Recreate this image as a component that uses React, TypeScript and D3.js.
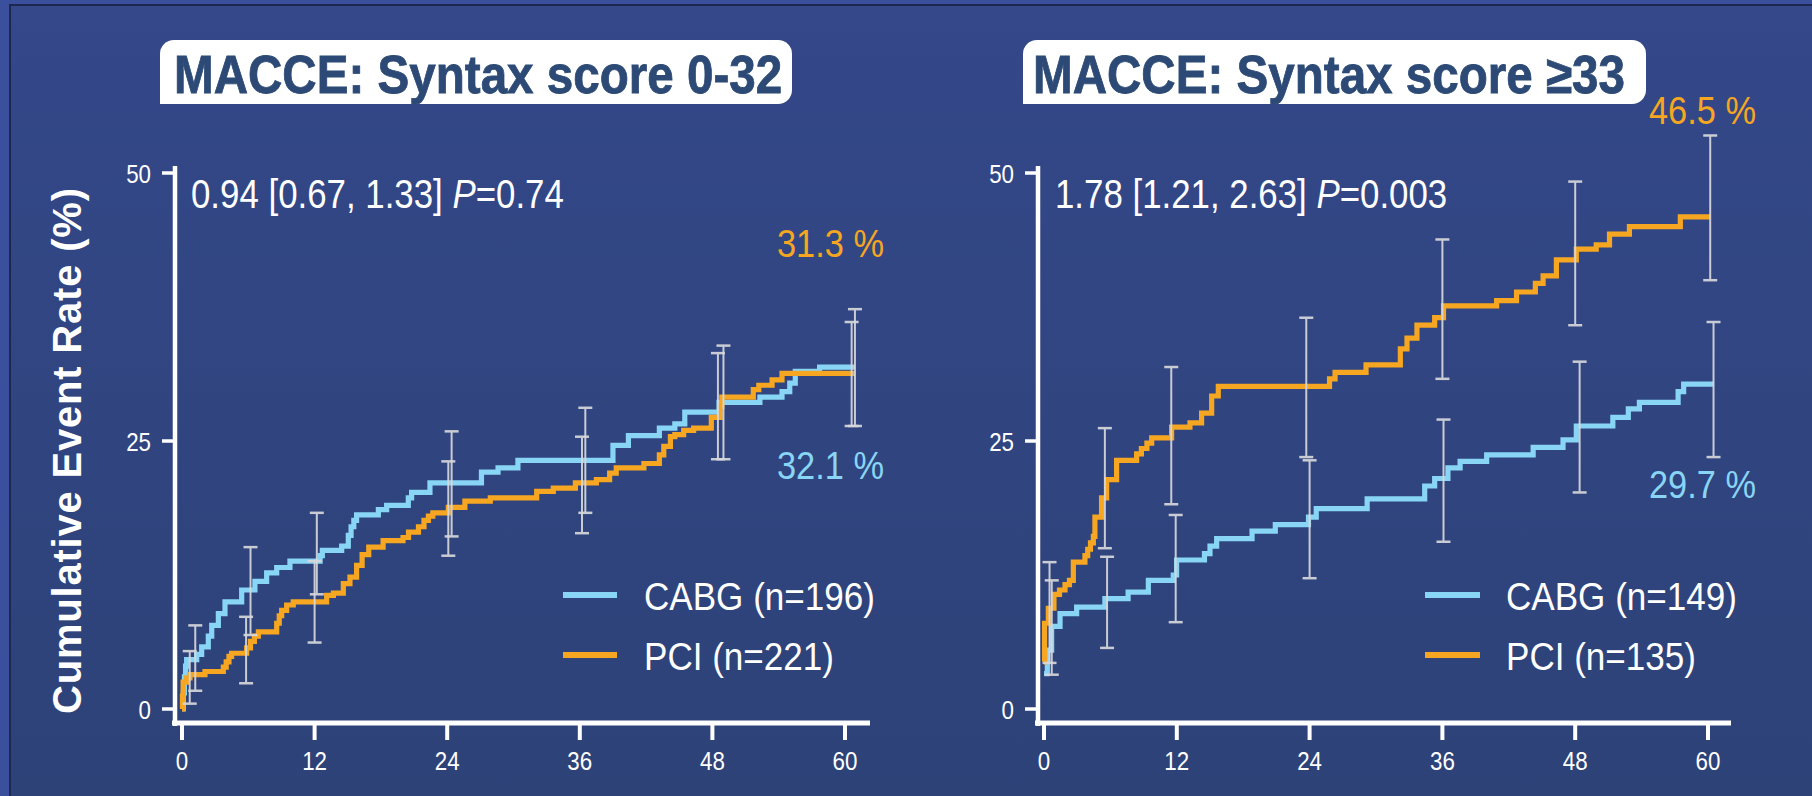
import React from 'react';
import * as d3 from 'd3';

type Pt = [number, number];
type CI = [number, number, number];

// ---------- data ----------
const monthTicks = [0, 12, 24, 36, 48, 60];
const rateTicks = [0, 25, 50];

// Syntax score 0-32
const leftCabg: Pt[] = [
  [0, 0], [0.12, 1.5], [0.22, 3.0], [0.32, 4.0], [0.42, 4.6], [1.33, 5.1], [1.78, 5.8], [2.38, 6.8],
  [2.69, 7.8], [3.29, 8.9], [3.89, 10.0], [5.4, 11.1], [6.6, 11.9], [7.66, 12.7], [8.57, 13.2],
  [9.77, 13.8], [12.5, 14.3], [12.7, 14.8], [14.45, 15.2], [15.05, 16.2], [15.3, 17.0], [15.55, 17.6],
  [15.8, 18.1], [17.77, 18.6], [18.52, 19.0], [20.48, 19.7], [20.78, 20.2], [22.44, 21.1], [27.1, 22.1],
  [28.6, 22.5], [30.4, 23.2], [39.0, 24.6], [40.4, 25.5], [43.2, 26.2], [44.6, 26.6], [45.5, 27.7],
  [48.6, 28.6], [52.3, 29.1], [54.3, 29.6], [55.0, 30.4], [55.5, 31.5], [57.7, 31.9], [60.9, 31.9],
];
const leftPci: Pt[] = [
  [0, 0], [0.04, 1.2], [0.1, 2.5], [0.4, 2.9], [0.72, 3.2], [2.08, 3.5], [3.74, 3.9], [4.0, 4.4],
  [4.25, 4.9], [4.49, 5.2], [5.85, 5.7], [6.2, 6.3], [6.55, 6.8], [6.91, 7.2], [8.57, 8.0], [8.8, 8.7],
  [9.02, 9.2], [9.47, 9.7], [10.07, 10.0], [13.09, 10.6], [13.7, 10.8], [14.6, 11.7], [15.2, 12.3],
  [15.8, 13.4], [16.3, 14.4], [16.9, 15.1], [18.2, 15.7], [20.0, 16.0], [20.5, 16.5], [21.4, 17.0],
  [21.9, 17.6], [22.3, 18.0], [22.7, 18.3], [24.1, 18.8], [25.6, 19.4], [27.9, 19.7], [32.1, 20.3],
  [33.6, 20.6], [35.6, 21.1], [37.5, 21.4], [38.7, 22.0], [39.3, 22.5], [41.8, 22.9], [43.2, 23.7],
  [43.6, 24.5], [44.2, 25.4], [44.6, 25.6], [45.4, 26.0], [46.3, 26.2], [47.9, 27.2], [48.7, 28.2],
  [48.85, 29.1], [51.7, 29.8], [52.2, 30.2], [53.4, 30.7], [54.3, 31.3], [60.9, 31.3],
];
// [month, lower, upper]
const leftCabgCI: CI[] = [
  [1.2, 1.7, 7.8], [6.2, 6.9, 15.1], [12.2, 10.7, 18.3], [24.4, 16.1, 25.9],
  [36.5, 18.3, 28.1], [49.0, 23.3, 33.9], [60.9, 26.4, 37.3],
];
const leftPciCI: CI[] = [
  [0.7, 0.5, 5.4], [5.8, 2.4, 8.6], [12.0, 6.2, 13.8], [24.1, 14.3, 23.1],
  [36.2, 16.4, 25.4], [48.5, 23.3, 33.2], [60.6, 26.4, 36.1],
];

// Syntax score >=33
const rightCabg: Pt[] = [
  [0, 3.3], [0.3, 5.5], [0.69, 7.7], [1.45, 8.9], [2.95, 9.5], [5.5, 10.3], [7.6, 10.9], [9.43, 12.0],
  [11.68, 12.5], [11.98, 13.9], [14.5, 14.5], [15.0, 15.2], [15.6, 15.9], [18.8, 16.6], [20.9, 17.2],
  [23.9, 17.9], [24.6, 18.7], [29.2, 19.6], [34.4, 20.8], [35.3, 21.5], [36.5, 22.5], [37.6, 23.1],
  [40.0, 23.7], [44.2, 24.4], [46.9, 25.1], [48.1, 26.4], [51.4, 27.2], [52.8, 28.0], [53.8, 28.6],
  [57.3, 29.6], [57.8, 30.3], [60.5, 30.3],
];
const rightPci: Pt[] = [
  [0, 4.4], [0.05, 8.0], [0.39, 9.4], [0.9, 10.7], [1.4, 11.1], [1.9, 11.6], [2.3, 12.0], [2.65, 13.7],
  [3.7, 14.3], [3.95, 14.9], [4.2, 15.5], [4.46, 16.1], [4.6, 17.9], [5.2, 19.7], [5.66, 21.4],
  [6.56, 23.2], [8.37, 23.8], [8.8, 24.3], [9.3, 24.8], [9.73, 25.3], [11.53, 26.3], [13.19, 26.7],
  [14.24, 27.6], [15.15, 29.2], [15.75, 30.1], [25.8, 30.8], [26.3, 31.4], [29.1, 32.1], [32.2, 33.6],
  [32.8, 34.6], [33.7, 35.8], [35.3, 36.5], [36.1, 37.6], [40.9, 38.1], [42.7, 38.9], [44.4, 39.7],
  [45.1, 40.4], [46.3, 41.9], [48.1, 42.9], [49.9, 43.3], [51.1, 44.3], [52.9, 45.0], [57.5, 45.9],
  [60.2, 45.9],
];
const rightCabgCI: CI[] = [
  [0.7, 3.2, 12.0], [5.7, 5.7, 14.2], [11.9, 8.1, 18.1], [24.0, 12.2, 23.2],
  [36.1, 15.6, 27.0], [48.4, 20.2, 32.4], [60.5, 23.5, 36.1],
];
const rightPciCI: CI[] = [
  [0.5, 4.3, 13.7], [5.5, 15.0, 26.2], [11.5, 19.1, 31.9], [23.7, 23.5, 36.5],
  [36.0, 30.8, 43.8], [48.0, 35.8, 49.2], [60.2, 40.0, 53.5],
];

const panelTitles = ['MACCE: Syntax score 0-32', 'MACCE: Syntax score \u226533'];
const hrTexts = ['0.94 [0.67, 1.33] ', '1.78 [1.21, 2.63] '];
const pTexts = ['=0.74', '=0.003'];
const pciFinal = ['31.3 %', '46.5 %'];
const cabgFinal = ['32.1 %', '29.7 %'];
const cabgLegend = ['CABG (n=196)', 'CABG (n=149)'];
const pciLegend = ['PCI (n=221)', 'PCI (n=135)'];
const yAxisTitle = 'Cumulative Event Rate (%)';

// ---------- styling / layout ----------
const W = 1812;
const H = 796;
const FONT = "'Liberation Sans', Arial, Helvetica, sans-serif";
const ORANGE = '#f6a620';
const BLUE = '#88d5f5';
const TITLE_INK = '#2c4a75';
const BAR = '#d8d8dc';

interface Cfg {
  x0: number; x60: number; axisX: number; xAxisEnd: number;
  box: [number, number]; titleX: number;
  statX: number;
  pciLab: [number, number]; cabgLab: [number, number];
  legX1: number; legX2: number; legTextX: number;
}

const cfgs: Cfg[] = [
  {
    x0: 182, x60: 845, axisX: 175, xAxisEnd: 870, box: [160, 792], titleX: 174,
    statX: 191, pciLab: [884, 257], cabgLab: [884, 479],
    legX1: 563, legX2: 617, legTextX: 644,
  },
  {
    x0: 1044, x60: 1708, axisX: 1038, xAxisEnd: 1731, box: [1023, 1646], titleX: 1033,
    statX: 1055, pciLab: [1756, 124], cabgLab: [1756, 498],
    legX1: 1425, legX2: 1480, legTextX: 1506,
  },
];

const Y0 = 709;
const Y50 = 173;

function boxPath(x1: number, x2: number, y1: number, y2: number, r: number) {
  return `M${x1},${y2} L${x1},${y1 + r} A${r},${r} 0 0 1 ${x1 + r},${y1} L${x2 - r},${y1} A${r},${r} 0 0 1 ${x2},${y1 + r} L${x2},${y2 - r} A${r},${r} 0 0 1 ${x2 - r},${y2} Z`;
}

function Panel({ i, cabg, pci, cabgCI, pciCI }: { i: number; cabg: Pt[]; pci: Pt[]; cabgCI: CI[]; pciCI: CI[] }) {
  const c = cfgs[i];
  const x = d3.scaleLinear().domain([0, 60]).range([c.x0, c.x60]);
  const y = d3.scaleLinear().domain([0, 50]).range([Y0, Y50]);
  const line = d3.line<Pt>().x((d) => x(d[0])).y((d) => y(d[1])).curve(d3.curveStepAfter);

  const bars = (data: CI[], key: string) =>
    data.map((d, k) => (
      <g key={key + k} stroke={BAR} opacity={0.92}>
        <line x1={x(d[0])} x2={x(d[0])} y1={y(d[1])} y2={y(d[2])} strokeWidth={2} />
        <line x1={x(d[0]) - 7} x2={x(d[0]) + 7} y1={y(d[1])} y2={y(d[1])} strokeWidth={2.5} />
        <line x1={x(d[0]) - 7} x2={x(d[0]) + 7} y1={y(d[2])} y2={y(d[2])} strokeWidth={2.5} />
      </g>
    ));

  return (
    <g fontFamily={FONT}>
      {/* title box */}
      <path d={boxPath(c.box[0], c.box[1], 40, 104, 14)} fill="#ffffff" />
      <text transform={`translate(${c.titleX},92.5) scale(0.898,1)`} fontSize={53} fontWeight="bold"
        fill={TITLE_INK} stroke={TITLE_INK} strokeWidth={0.8}>{panelTitles[i]}</text>

      {/* axes */}
      <line x1={c.axisX} x2={c.axisX} y1={166} y2={726} stroke="#fff" strokeWidth={4.5} />
      <line x1={c.axisX - 3} x2={c.xAxisEnd} y1={723} y2={723} stroke="#fff" strokeWidth={5} />
      {rateTicks.map((t) => (
        <g key={'y' + t}>
          <line x1={c.axisX - 13} x2={c.axisX} y1={y(t)} y2={y(t)} stroke="#fff" strokeWidth={3.5} />
          <text transform={`translate(${c.axisX - 24},${y(t) + 9.5}) scale(0.86,1)`} textAnchor="end"
            fontSize={26} fill="#fff">{t}</text>
        </g>
      ))}
      {monthTicks.map((t) => (
        <g key={'x' + t}>
          <line x1={x(t)} x2={x(t)} y1={723} y2={740} stroke="#fff" strokeWidth={4} />
          <text transform={`translate(${x(t)},770) scale(0.86,1)`} textAnchor="middle"
            fontSize={26} fill="#fff">{t}</text>
        </g>
      ))}

      {/* statistics */}
      <text transform={`translate(${c.statX},208) scale(0.85,1)`} fontSize={41} fill="#fff">
        {hrTexts[i]}<tspan fontStyle="italic">P</tspan>{pTexts[i]}
      </text>

      {/* curves */}
      <path d={line(cabg) || ''} fill="none" stroke={BLUE} strokeWidth={5.2} strokeLinejoin="miter" />
      <path d={line(pci) || ''} fill="none" stroke={ORANGE} strokeWidth={5.2} strokeLinejoin="miter" />
      {bars(cabgCI, 'cb')}
      {bars(pciCI, 'pb')}

      {/* final rates */}
      <text x={c.pciLab[0]} y={c.pciLab[1]} fontSize={38} fill={ORANGE} textAnchor="end"
        textLength={107} lengthAdjust="spacingAndGlyphs">{pciFinal[i]}</text>
      <text x={c.cabgLab[0]} y={c.cabgLab[1]} fontSize={38} fill={BLUE} textAnchor="end"
        textLength={107} lengthAdjust="spacingAndGlyphs">{cabgFinal[i]}</text>

      {/* legend */}
      <line x1={c.legX1} x2={c.legX2} y1={595} y2={595} stroke={BLUE} strokeWidth={6} />
      <line x1={c.legX1} x2={c.legX2} y1={655} y2={655} stroke={ORANGE} strokeWidth={6} />
      <text x={c.legTextX} y={610} fontSize={39} fill="#fff" textLength={231}
        lengthAdjust="spacingAndGlyphs">{cabgLegend[i]}</text>
      <text x={c.legTextX} y={670} fontSize={39} fill="#fff" textLength={190}
        lengthAdjust="spacingAndGlyphs">{pciLegend[i]}</text>
    </g>
  );
}

export default function App() {
  return (
    <div style={{ position: 'absolute', left: 0, top: 0 }}>
      <svg width={W} height={H} viewBox={`0 0 ${W} ${H}`} style={{ display: 'block' }}>
        <defs>
          <linearGradient id="bg" x1="0" y1="0" x2="0" y2="1">
            <stop offset="0" stopColor="#34488a" />
            <stop offset="1" stopColor="#2d4277" />
          </linearGradient>
        </defs>
        <rect x={0} y={0} width={W} height={H} fill="url(#bg)" />
        <rect x={0} y={0} width={W} height={4} fill="#3b509c" />
        <rect x={0} y={0} width={9} height={H} fill="#3b509c" />
        <line x1={9} x2={W} y1={5} y2={5} stroke="#1d2752" strokeWidth={2} />
        <line x1={10} x2={10} y1={5} y2={H} stroke="#1d2752" strokeWidth={2} />

        <text transform="translate(81,451) rotate(-90)" textAnchor="middle" fontFamily={FONT}
          fontSize={40} fontWeight="bold" fill="#fff" textLength={526} lengthAdjust="spacing">
          {yAxisTitle}
        </text>

        <Panel i={0} cabg={leftCabg} pci={leftPci} cabgCI={leftCabgCI} pciCI={leftPciCI} />
        <Panel i={1} cabg={rightCabg} pci={rightPci} cabgCI={rightCabgCI} pciCI={rightPciCI} />
      </svg>
    </div>
  );
}
